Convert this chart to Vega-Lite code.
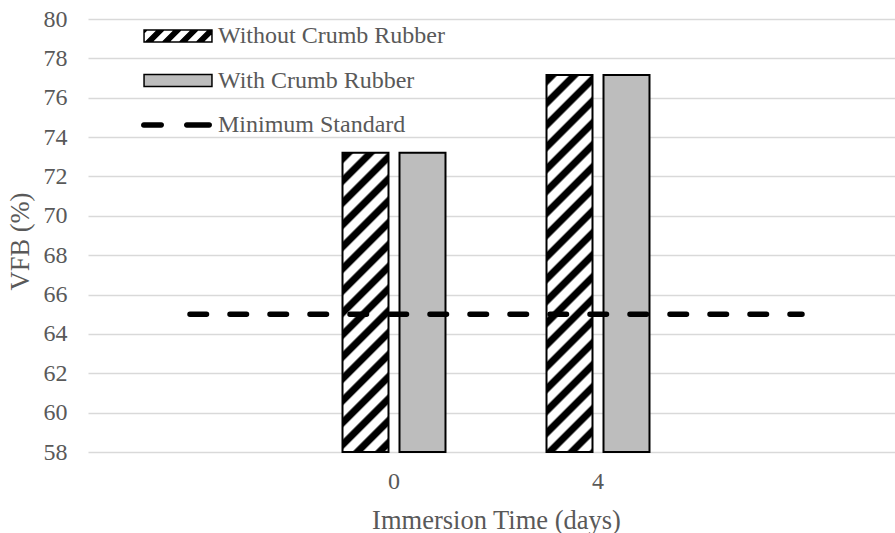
{
  "$schema": "https://vega.github.io/schema/vega-lite/v6.json",
  "width": 807,
  "height": 433,
  "autosize": {"type": "none"},
  "padding": {"left": 88, "top": 19, "right": 0, "bottom": 81},
  "background": "white",
  "config": {
    "view": {"stroke": null},
    "font": "Liberation Serif",
    "style": {
      "guide-label": {"font": "Liberation Serif", "fill": "#595959"},
      "guide-title": {"font": "Liberation Serif", "fill": "#595959"}
    },
    "axis": {
      "labelFont": "Liberation Serif",
      "labelFontSize": 24,
      "labelColor": "#595959",
      "titleFont": "Liberation Serif",
      "titleFontSize": 26.5,
      "titleFontWeight": "normal",
      "titleColor": "#595959",
      "domain": false,
      "ticks": false,
      "tickSize": 0
    },
    "legend": {
      "orient": "none",
      "legendX": 77,
      "legendY": 4,
      "direction": "vertical",
      "padding": 0,
      "symbolSize": 576,
      "symbolStrokeColor": "#000000",
      "symbolStrokeWidth": 1.5,
      "symbolOpacity": 1,
      "labelFont": "Liberation Serif",
      "labelFontSize": 24,
      "labelColor": "#595959",
      "labelOffset": 27,
      "labelLimit": 400,
      "rowPadding": 19.5
    }
  },
  "datasets": {
    "bars": [
      {"day": "0", "series": "Without Crumb Rubber", "vfb": 73.2},
      {"day": "0", "series": "With Crumb Rubber", "vfb": 73.2},
      {"day": "4", "series": "Without Crumb Rubber", "vfb": 77.15},
      {"day": "4", "series": "With Crumb Rubber", "vfb": 77.15}
    ],
    "standard": [
      {"day": "start", "series": "Minimum Standard", "vfb": 65},
      {"day": "0", "series": "Minimum Standard", "vfb": 65},
      {"day": "4", "series": "Minimum Standard", "vfb": 65},
      {"day": "end", "series": "Minimum Standard", "vfb": 65}
    ]
  },
  "encoding": {
    "x": {
      "field": "day",
      "type": "nominal",
      "sort": null,
      "scale": {"domain": ["start", "0", "4", "end"], "range": [0, 816], "paddingInner": 0, "paddingOuter": 0},
      "axis": {
        "labelAngle": 0,
        "labelFont": "Liberation Serif",
        "labelExpr": "datum.value === 'start' || datum.value === 'end' ? '' : datum.value",
        "labelPadding": 17,
        "titlePadding": 14,
        "grid": false
      },
      "title": "Immersion Time (days)"
    },
    "y": {
      "field": "vfb",
      "type": "quantitative",
      "scale": {"domain": [58, 80], "nice": false, "zero": false},
      "axis": {
        "values": [58, 60, 62, 64, 66, 68, 70, 72, 74, 76, 78, 80],
        "labelFont": "Liberation Serif",
        "grid": true,
        "gridColor": "#d9d9d9",
        "gridWidth": 1.6,
        "labelPadding": 21,
        "titlePadding": 9,
        "titleY": 222
      },
      "title": "VFB (%)"
    }
  },
  "layer": [
    {
      "data": {"name": "bars"},
      "transform": [{"filter": "datum.series === 'Without Crumb Rubber' && datum.day === '0'"}],
      "mark": {
        "type": "bar",
        "stroke": "#000000",
        "strokeWidth": 2,
        "fill": {
          "gradient": "linear", "x1": 0, "y1": 0, "x2": 0.1732, "y2": 1.1272,
          "stops": [
            {"offset": 0, "color": "#ffffff"}, {"offset": 0.0064, "color": "#000000"}, {"offset": 0.0287, "color": "#000000"}, {"offset": 0.035, "color": "#ffffff"},
            {"offset": 0.0637, "color": "#ffffff"}, {"offset": 0.0701, "color": "#000000"}, {"offset": 0.0924, "color": "#000000"}, {"offset": 0.0987, "color": "#ffffff"},
            {"offset": 0.1274, "color": "#ffffff"}, {"offset": 0.1338, "color": "#000000"}, {"offset": 0.1561, "color": "#000000"}, {"offset": 0.1624, "color": "#ffffff"},
            {"offset": 0.1911, "color": "#ffffff"}, {"offset": 0.1975, "color": "#000000"}, {"offset": 0.2198, "color": "#000000"}, {"offset": 0.2261, "color": "#ffffff"},
            {"offset": 0.2548, "color": "#ffffff"}, {"offset": 0.2612, "color": "#000000"}, {"offset": 0.2835, "color": "#000000"}, {"offset": 0.2898, "color": "#ffffff"},
            {"offset": 0.3186, "color": "#ffffff"}, {"offset": 0.3249, "color": "#000000"}, {"offset": 0.3472, "color": "#000000"}, {"offset": 0.3536, "color": "#ffffff"},
            {"offset": 0.3823, "color": "#ffffff"}, {"offset": 0.3886, "color": "#000000"}, {"offset": 0.4109, "color": "#000000"}, {"offset": 0.4173, "color": "#ffffff"},
            {"offset": 0.446, "color": "#ffffff"}, {"offset": 0.4523, "color": "#000000"}, {"offset": 0.4747, "color": "#000000"}, {"offset": 0.481, "color": "#ffffff"},
            {"offset": 0.5097, "color": "#ffffff"}, {"offset": 0.5161, "color": "#000000"}, {"offset": 0.5384, "color": "#000000"}, {"offset": 0.5447, "color": "#ffffff"},
            {"offset": 0.5734, "color": "#ffffff"}, {"offset": 0.5798, "color": "#000000"}, {"offset": 0.6021, "color": "#000000"}, {"offset": 0.6084, "color": "#ffffff"},
            {"offset": 0.6371, "color": "#ffffff"}, {"offset": 0.6435, "color": "#000000"}, {"offset": 0.6658, "color": "#000000"}, {"offset": 0.6721, "color": "#ffffff"},
            {"offset": 0.7008, "color": "#ffffff"}, {"offset": 0.7072, "color": "#000000"}, {"offset": 0.7295, "color": "#000000"}, {"offset": 0.7358, "color": "#ffffff"},
            {"offset": 0.7645, "color": "#ffffff"}, {"offset": 0.7709, "color": "#000000"}, {"offset": 0.7932, "color": "#000000"}, {"offset": 0.7996, "color": "#ffffff"},
            {"offset": 0.8282, "color": "#ffffff"}, {"offset": 0.8346, "color": "#000000"}, {"offset": 0.8569, "color": "#000000"}, {"offset": 0.8633, "color": "#ffffff"},
            {"offset": 0.8919, "color": "#ffffff"}, {"offset": 0.8983, "color": "#000000"}, {"offset": 0.9206, "color": "#000000"}, {"offset": 0.927, "color": "#ffffff"},
            {"offset": 0.9557, "color": "#ffffff"}, {"offset": 0.962, "color": "#000000"}, {"offset": 0.9843, "color": "#000000"}, {"offset": 0.9907, "color": "#ffffff"},
            {"offset": 1, "color": "#ffffff"}
          ]
        }
      },
      "encoding": {
        "xOffset": {"field": "series", "type": "nominal", "scale": {"domain": ["Without Crumb Rubber", "With Crumb Rubber"], "paddingInner": 0.193, "paddingOuter": 0.886}},
        "y2": {"datum": 58}
      }
    },
    {
      "data": {"name": "bars"},
      "transform": [{"filter": "datum.series === 'Without Crumb Rubber' && datum.day === '4'"}],
      "mark": {
        "type": "bar",
        "stroke": "#000000",
        "strokeWidth": 2,
        "fill": {
          "gradient": "linear", "x1": 0, "y1": 0, "x2": 0.1349, "y2": 1.1056,
          "stops": [
            {"offset": 0, "color": "#ffffff"}, {"offset": 0.0052, "color": "#000000"}, {"offset": 0.0234, "color": "#000000"}, {"offset": 0.0286, "color": "#ffffff"},
            {"offset": 0.052, "color": "#ffffff"}, {"offset": 0.0572, "color": "#000000"}, {"offset": 0.0754, "color": "#000000"}, {"offset": 0.0806, "color": "#ffffff"},
            {"offset": 0.104, "color": "#ffffff"}, {"offset": 0.1092, "color": "#000000"}, {"offset": 0.1274, "color": "#000000"}, {"offset": 0.1326, "color": "#ffffff"},
            {"offset": 0.156, "color": "#ffffff"}, {"offset": 0.1612, "color": "#000000"}, {"offset": 0.1794, "color": "#000000"}, {"offset": 0.1846, "color": "#ffffff"},
            {"offset": 0.208, "color": "#ffffff"}, {"offset": 0.2132, "color": "#000000"}, {"offset": 0.2314, "color": "#000000"}, {"offset": 0.2366, "color": "#ffffff"},
            {"offset": 0.26, "color": "#ffffff"}, {"offset": 0.2652, "color": "#000000"}, {"offset": 0.2834, "color": "#000000"}, {"offset": 0.2886, "color": "#ffffff"},
            {"offset": 0.3121, "color": "#ffffff"}, {"offset": 0.3173, "color": "#000000"}, {"offset": 0.3355, "color": "#000000"}, {"offset": 0.3407, "color": "#ffffff"},
            {"offset": 0.3641, "color": "#ffffff"}, {"offset": 0.3693, "color": "#000000"}, {"offset": 0.3875, "color": "#000000"}, {"offset": 0.3927, "color": "#ffffff"},
            {"offset": 0.4161, "color": "#ffffff"}, {"offset": 0.4213, "color": "#000000"}, {"offset": 0.4395, "color": "#000000"}, {"offset": 0.4447, "color": "#ffffff"},
            {"offset": 0.4681, "color": "#ffffff"}, {"offset": 0.4733, "color": "#000000"}, {"offset": 0.4915, "color": "#000000"}, {"offset": 0.4967, "color": "#ffffff"},
            {"offset": 0.5201, "color": "#ffffff"}, {"offset": 0.5253, "color": "#000000"}, {"offset": 0.5435, "color": "#000000"}, {"offset": 0.5487, "color": "#ffffff"},
            {"offset": 0.5721, "color": "#ffffff"}, {"offset": 0.5773, "color": "#000000"}, {"offset": 0.5955, "color": "#000000"}, {"offset": 0.6007, "color": "#ffffff"},
            {"offset": 0.6241, "color": "#ffffff"}, {"offset": 0.6293, "color": "#000000"}, {"offset": 0.6475, "color": "#000000"}, {"offset": 0.6527, "color": "#ffffff"},
            {"offset": 0.6761, "color": "#ffffff"}, {"offset": 0.6813, "color": "#000000"}, {"offset": 0.6995, "color": "#000000"}, {"offset": 0.7047, "color": "#ffffff"},
            {"offset": 0.7281, "color": "#ffffff"}, {"offset": 0.7333, "color": "#000000"}, {"offset": 0.7515, "color": "#000000"}, {"offset": 0.7567, "color": "#ffffff"},
            {"offset": 0.7801, "color": "#ffffff"}, {"offset": 0.7853, "color": "#000000"}, {"offset": 0.8035, "color": "#000000"}, {"offset": 0.8087, "color": "#ffffff"},
            {"offset": 0.8322, "color": "#ffffff"}, {"offset": 0.8374, "color": "#000000"}, {"offset": 0.8556, "color": "#000000"}, {"offset": 0.8608, "color": "#ffffff"},
            {"offset": 0.8842, "color": "#ffffff"}, {"offset": 0.8894, "color": "#000000"}, {"offset": 0.9076, "color": "#000000"}, {"offset": 0.9128, "color": "#ffffff"},
            {"offset": 0.9362, "color": "#ffffff"}, {"offset": 0.9414, "color": "#000000"}, {"offset": 0.9596, "color": "#000000"}, {"offset": 0.9648, "color": "#ffffff"},
            {"offset": 0.9882, "color": "#ffffff"}, {"offset": 0.9934, "color": "#000000"}, {"offset": 1, "color": "#000000"}
          ]
        }
      },
      "encoding": {
        "xOffset": {"field": "series", "type": "nominal", "scale": {"domain": ["Without Crumb Rubber", "With Crumb Rubber"], "paddingInner": 0.193, "paddingOuter": 0.886}},
        "y2": {"datum": 58}
      }
    },
    {
      "data": {"name": "bars"},
      "transform": [{"filter": "datum.series === 'With Crumb Rubber'"}],
      "mark": {"type": "bar", "stroke": "#000000", "strokeWidth": 2},
      "encoding": {
        "xOffset": {"field": "series", "type": "nominal", "scale": {"domain": ["Without Crumb Rubber", "With Crumb Rubber"], "paddingInner": 0.193, "paddingOuter": 0.886}},
        "y2": {"datum": 58},
        "fill": {
          "field": "series",
          "type": "nominal",
          "title": null,
          "scale": {
            "domain": ["Without Crumb Rubber", "With Crumb Rubber", "Minimum Standard"],
            "range": ["#000000", "#bdbdbd", "#000000"]
          },
          "legend": {"title": null}
        }
      }
    },
    {
      "data": {"name": "standard"},
      "mark": {"type": "line", "color": "#000000", "strokeWidth": 5.5, "strokeDash": [16.5, 23.5], "strokeCap": "round"},
      "encoding": {}
    },
    {
      "data": {"name": "standard"},
      "transform": [{"filter": "false"}],
      "mark": {"type": "point", "filled": true, "strokeWidth": 1.5, "opacity": 1},
      "encoding": {
        "shape": {
          "field": "series",
          "type": "nominal",
          "title": null,
          "scale": {
            "domain": ["Without Crumb Rubber", "With Crumb Rubber", "Minimum Standard"],
            "range": [
              "M-2.83,-0.5H2.83V0.5H-2.83ZM-2.6,-0.5L-2.83,-0.27L-2.83,0.5L-2.7,0.5L-1.7,-0.5ZM-1.183,-0.5L-2.183,0.5L-1.283,0.5L-0.283,-0.5ZM0.234,-0.5L-0.766,0.5L0.134,0.5L1.134,-0.5ZM1.651,-0.5L0.651,0.5L1.551,0.5L2.551,-0.5ZM2.83,-0.262L2.068,0.5L2.83,0.5Z",
              "M-2.83,-0.5H2.83V0.5H-2.83Z",
              "M-2.85,-0.167H-1.4A0.167,0.167,0,0,1,-1.4,0.167H-2.85A0.167,0.167,0,0,1,-2.85,-0.167ZM0.73,-0.167H2.6A0.167,0.167,0,0,1,2.6,0.167H0.73A0.167,0.167,0,0,1,0.73,-0.167Z"
            ]
          },
          "legend": {"title": null}
        },
        "stroke": {
          "field": "series",
          "type": "nominal",
          "title": null,
          "scale": {
            "domain": ["Without Crumb Rubber", "With Crumb Rubber", "Minimum Standard"],
            "range": ["#000000", "#000000", "#000000"]
          },
          "legend": {"title": null}
        }
      }
    }
  ]
}
